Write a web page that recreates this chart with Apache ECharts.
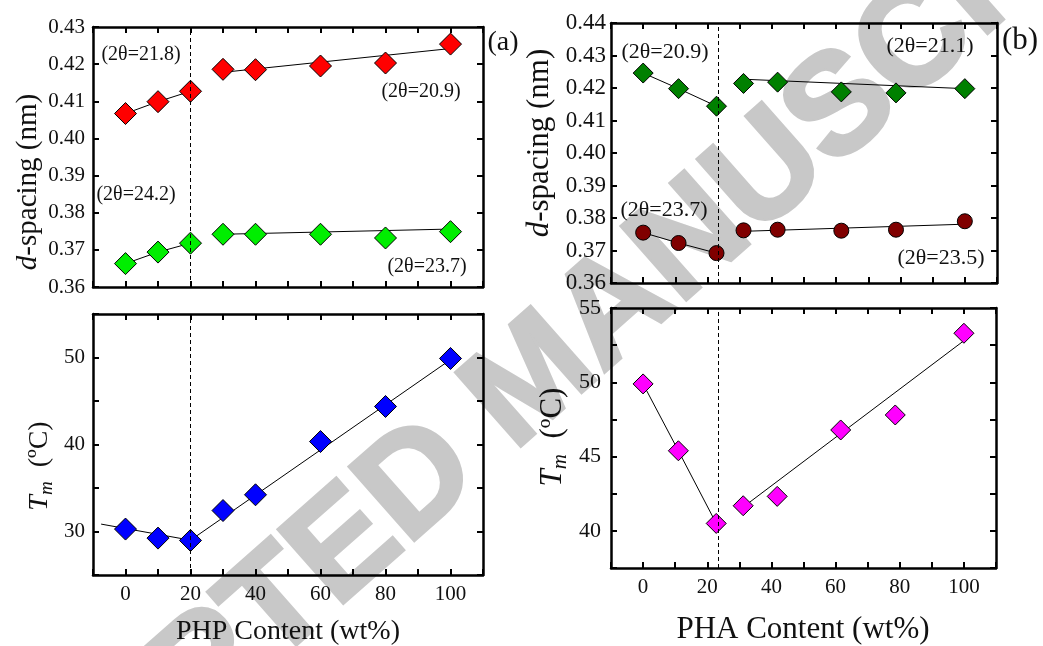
<!DOCTYPE html>
<html>
<head>
<meta charset="utf-8">
<title>d-spacing and Tm vs PHP / PHA content</title>
<script src="https://cdn.jsdelivr.net/npm/echarts@6/dist/echarts.min.js"></script>
<style>
  html, body { margin: 0; padding: 0; background: #fff; }
  #chart { width: 1043px; height: 646px; }
</style>
</head>
<body>
<div id="chart"></div>
<script>
// ---------- data ----------
// (a) PHP blends
const phpContent = [0, 10, 20, 30, 40, 60, 80, 100];
const dPhpUpper = [0.4067, 0.4099, 0.4127, 0.4186, 0.4185, 0.4195, 0.4203, 0.4254];
const dPhpLower = [0.3663, 0.3694, 0.3718, 0.3742, 0.3742, 0.3742, 0.3732, 0.3749];
const tmPhp = [30.28, 29.24, 28.97, 32.41, 34.22, 40.34, 44.37, 49.89];

// (b) PHA blends
const phaContent = [0, 11, 22.8, 31.2, 41.8, 61.6, 78.6, 100];
const dPhaUpper = [0.4246, 0.4198, 0.4144, 0.4214, 0.4218, 0.4188, 0.4185, 0.4198];
const dPhaLower = [0.3755, 0.3723, 0.3692, 0.3762, 0.3764, 0.3761, 0.3764, 0.3790];
const tmPha = [49.89, 45.39, 40.5, 41.69, 42.32, 46.79, 47.8, 53.3];

// linear-fit segments (end points)
const fitPhpUpper = [[30, 0.4178], [100, 0.4242]];
const fitPhpLower = [[30, 0.3742], [100, 0.3756]];
const fitTmPhpLow = [[-7.5, 30.85], [20, 29.0]];
const fitTmPhpHigh = [[20, 29.0], [100, 49.75]];
const fitPhaUpper = [[31.2, 0.4227], [100, 0.4198]];
const fitPhaLower = [[31.2, 0.3759], [100, 0.3781]];
const fitTmPhaHigh = [[31.2, 41.6], [100, 52.8]];

// composition where the trend changes
const phpBoundary = 20;
const phaBoundary = 23.3;

// axis ranges / tick steps
const contentRange = [-10, 110, 10];
const dRangeA = [0.36, 0.43, 0.01];
const tmRangeA = [25, 55, 5];
const dRangeB = [0.36, 0.44, 0.01];
const tmRangeB = [37.5, 55, 2.5];

// annotation texts
const peakNotesA = ['(2θ=21.8)', '(2θ=20.9)', '(2θ=24.2)', '(2θ=23.7)'];
const peakNotesB = ['(2θ=20.9)', '(2θ=21.1)', '(2θ=23.7)', '(2θ=23.5)'];

// ---------- styling helpers ----------
const SERIF = '"Liberation Serif", "Times New Roman", serif';
const INK = '#111';

const grids = [
  { left: 93, top: 27, width: 390, height: 260 },   // (a) d-spacing
  { left: 93, top: 314, width: 390, height: 261 },  // (a) Tm
  { left: 611, top: 23, width: 386, height: 260 },  // (b) d-spacing
  { left: 611, top: 308, width: 385, height: 260 }  // (b) Tm
];

const frameLine = { show: true, onZero: false, lineStyle: { color: '#000', width: 2.5 } };
const tickIn = { show: true, inside: true, length: 6, lineStyle: { color: '#000', width: 2 } };

function xAxesFor(gi, showLabels, fontSize) {
  const [min, max, interval] = contentRange;
  const base = { gridIndex: gi, type: 'value', min, max, interval,
    axisLine: frameLine, axisTick: tickIn, splitLine: { show: false } };
  return [
    Object.assign({}, base, { position: 'bottom',
      axisLabel: { show: showLabels, margin: 9, fontSize, fontFamily: SERIF, color: INK,
        formatter: v => (v >= 0 && v <= 100 && v % 20 === 0) ? String(v) : '' } }),
    Object.assign({}, base, { position: 'top', axisLabel: { show: false } })
  ];
}

function yAxesFor(gi, range, fmt, fontSize, margin) {
  const [min, max, interval] = range;
  const base = { gridIndex: gi, type: 'value', min, max, interval,
    axisLine: frameLine, axisTick: tickIn, splitLine: { show: false } };
  return [
    Object.assign({}, base, { position: 'left',
      axisLabel: { margin, fontSize, fontFamily: SERIF, color: INK, formatter: fmt } }),
    Object.assign({}, base, { position: 'right', axisLabel: { show: false } })
  ];
}

const pts = (xs, ys) => xs.map((x, i) => [x, ys[i]]);

function markers(gi, xs, ys, symbol, size, color) {
  return { type: 'scatter', xAxisIndex: 2 * gi, yAxisIndex: 2 * gi,
    data: pts(xs, ys), symbol, symbolSize: size, z: 4, silent: true,
    itemStyle: { color, borderColor: '#000', borderWidth: 1, opacity: 1 } };
}

function segment(gi, data, boundary) {
  const s = { type: 'line', xAxisIndex: 2 * gi, yAxisIndex: 2 * gi, data,
    symbol: 'none', z: 3, silent: true,
    lineStyle: { color: '#000', width: 1 } };
  if (boundary !== undefined) {
    s.markLine = { symbol: 'none', silent: true, label: { show: false },
      lineStyle: { color: '#000', width: 1, type: [4, 3] },
      data: [{ xAxis: boundary }] };
  }
  return s;
}

function note(x, y, text, size) {
  return { type: 'text', x, y, z: 10, silent: true,
    style: { text, font: `${size}px ${SERIF}`, fill: INK, align: 'center', verticalAlign: 'middle' } };
}

function dTitle(x, y, size) {
  return { type: 'text', x, y, rotation: Math.PI / 2, z: 10, silent: true,
    style: { text: '{i|d}{r|-spacing (nm)}', align: 'center', verticalAlign: 'middle', fill: INK,
      rich: { i: { font: `italic ${size}px ${SERIF}`, fill: INK },
              r: { font: `${size}px ${SERIF}`, fill: INK } } } };
}

function tmTitle(x, y, size) {
  const sub = Math.round(size * 0.68);
  return { type: 'text', x, y, rotation: Math.PI / 2, z: 10, silent: true,
    style: { text: '{t|T}{s|m}{r|  (ºC)}', align: 'center', verticalAlign: 'middle', fill: INK,
      rich: { t: { font: `italic ${size}px ${SERIF}`, fill: INK, lineHeight: size + 4 },
              s: { font: `italic ${sub}px ${SERIF}`, fill: INK, lineHeight: sub - 2, verticalAlign: 'bottom' },
              r: { font: `${size}px ${SERIF}`, fill: INK, lineHeight: size + 4 } } } };
}

const fmt2 = v => v.toFixed(2);
const every10 = v => (Math.abs(v % 10) < 1e-9) ? String(v) : '';
const every5 = v => (Math.abs(v % 5) < 1e-9) ? String(v) : '';

const option = {
  animation: false,
  backgroundColor: '#fff',
  grid: grids,
  xAxis: [].concat(
    xAxesFor(0, false, 21), xAxesFor(1, true, 21),
    xAxesFor(2, false, 21), xAxesFor(3, true, 21)),
  yAxis: [].concat(
    yAxesFor(0, dRangeA, fmt2, 21, 8),
    yAxesFor(1, tmRangeA, every10, 21, 8),
    yAxesFor(2, dRangeB, fmt2, 23, 5),
    yAxesFor(3, tmRangeB, every5, 22, 10)),
  series: [
    // (a) d-spacing
    segment(0, pts(phpContent, dPhpUpper).slice(0, 3), phpBoundary),
    segment(0, fitPhpUpper),
    segment(0, pts(phpContent, dPhpLower).slice(0, 3)),
    segment(0, fitPhpLower),
    markers(0, phpContent, dPhpUpper, 'diamond', 22, '#ff0000'),
    markers(0, phpContent, dPhpLower, 'diamond', 22, '#00ee00'),
    // (a) Tm
    segment(1, fitTmPhpLow, phpBoundary),
    segment(1, fitTmPhpHigh),
    markers(1, phpContent, tmPhp, 'diamond', 22, '#0000ff'),
    // (b) d-spacing
    segment(2, pts(phaContent, dPhaUpper).slice(0, 3), phaBoundary),
    segment(2, fitPhaUpper),
    segment(2, pts(phaContent, dPhaLower).slice(0, 3)),
    segment(2, fitPhaLower),
    markers(2, phaContent, dPhaUpper, 'diamond', 20, '#008000'),
    markers(2, phaContent, dPhaLower, 'circle', 15, '#800000'),
    // (b) Tm
    segment(3, pts(phaContent, tmPha).slice(0, 3), phaBoundary),
    segment(3, fitTmPhaHigh),
    markers(3, phaContent, tmPha, 'diamond', 20, '#ff00ff')
  ],
  graphic: [
    { type: 'text', x: 535, y: 381, rotation: 0.724, z: -1, silent: true,
      style: { text: 'ACCEPTED MANUSCRIPT', font: 'bold 142px "Liberation Sans", Arial, sans-serif',
        fill: '#c8c8c8', stroke: '#c8c8c8', lineWidth: 4,
        align: 'center', verticalAlign: 'middle' } },
    note(141, 55, peakNotesA[0], 20),
    note(421, 92, peakNotesA[1], 20),
    note(136, 195, peakNotesA[2], 20),
    note(427, 267, peakNotesA[3], 20),
    note(665, 52, peakNotesB[0], 22),
    note(930, 46, peakNotesB[1], 22),
    note(664, 210, peakNotesB[2], 22),
    note(941, 258, peakNotesB[3], 22),
    note(503, 43, '(a)', 28),
    note(1020, 41, '(b)', 31),
    dTitle(28, 182, 29),
    dTitle(540, 143, 31),
    tmTitle(40, 466, 28),
    tmTitle(553, 437, 31),
    note(288, 632, 'PHP Content (wt%)', 28),
    note(803, 630, 'PHA Content (wt%)', 31)
  ]
};

echarts.init(document.getElementById('chart')).setOption(option);
</script>
</body>
</html>
